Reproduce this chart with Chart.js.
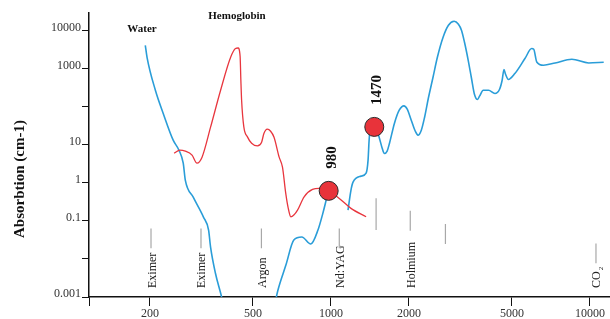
<!DOCTYPE html>
<html>
<head>
<meta charset="utf-8">
<script src="https://cdn.jsdelivr.net/npm/chart.js@4.4.1/dist/chart.umd.min.js"></script>
<style>
  html, body { margin: 0; padding: 0; background: #fff; }
  #wrap { width: 610px; height: 319px; position: relative; }
</style>
</head>
<body>
<div id="wrap"><canvas id="absorption"></canvas></div>
<script>
// wavelength (nm) vs absorption (cm-1)

// water, drawn in three pieces
var waterNm1  = [192, 195, 210, 225, 246, 259, 269, 274, 294, 322, 337, 343, 358, 375, 381];
var waterAbs1 = [4110, 1990, 271, 67.5, 13.2, 7.2, 3.29, 1.18, 0.42, 0.126, 0.0574, 0.0205, 0.00427, 0.00127, 0.00083];

var waterNm2  = [612, 623, 670, 719, 772, 836, 891, 931, 965, 980];
var waterAbs2 = [0.00083, 0.00144, 0.0069, 0.0313, 0.0376, 0.0246, 0.0574, 0.160, 0.42, 0.62];

var waterNm3  = [1164, 1195, 1217, 1307, 1367, 1391, 1404, 1416, 1464, 1508, 1535, 1577, 1609, 1648, 1683,
                 1759, 1835, 1914, 1970, 2042, 2117, 2168, 2233, 2299, 2377, 2478, 2576, 2710, 2842, 2990,
                 3106, 3191, 3278, 3388, 3488, 3581, 3681, 3747, 3873, 4060, 4296, 4478, 4581, 4656, 4721,
                 4842, 5129, 5610, 5957, 6067, 6231, 6614, 7337, 8511, 9886, 11300];
var waterAbs3 = [0.192, 0.643, 1.04, 1.50, 1.80, 3.94, 13.2, 24.2, 29.5, 22.7, 15.8, 8.15, 5.91, 6.79, 11.0,
                 36.9, 80.9, 105, 86, 44.2, 22.7, 17.9, 24.2, 53, 167, 594, 1990, 6670, 13770, 17540,
                 14620, 10180, 4930, 1660, 560, 213, 155, 189, 271, 271, 222, 288, 497, 946, 713,
                 518, 743, 1841, 3373, 3230, 1500, 1228, 1412, 1766, 1412, 1472];

// hemoglobin
var hbNm  = [248, 261, 274, 291, 304, 318, 343, 375, 410, 428, 438, 446, 449, 452, 461, 476, 494, 520, 540,
             551, 568, 585, 603, 631, 650, 669, 684, 700, 719, 743, 788, 849, 901, 980, 1077, 1195, 1367];
var hbAbs = [6.02, 7.21, 6.79, 5.33, 3.29, 4.73, 29.0, 271, 1990, 3373, 3490, 2115, 497, 148, 29.5, 16.1, 11.0, 9.35, 11.7,
             19.8, 25.7, 22.7, 15.8, 4.73, 2.58, 0.537, 0.217, 0.128, 0.142, 0.192, 0.43, 0.671, 0.713, 0.62, 0.39, 0.213, 0.128];

// highlighted diode wavelengths
var dotNm  = [980, 1470];
var dotAbs = [0.616, 29.5];

// laser wavelength markers
var laserNm     = [202, 315, 539, 1077, 1494, 2024, 2767, 10549];
var laserTop    = [0.0635, 0.0635, 0.0635, 0.0635, 0.396, 0.184, 0.0824, 0.0256];
var laserBottom = [0.019, 0.019, 0.019, 0.019, 0.0574, 0.055, 0.0246, 0.00766];
var laserNames  = ['Eximer', 'Eximer', 'Argon', 'Nd:YAG', '', 'Holmium', '', 'CO2'];

var xTicks = [200, 500, 1000, 2000, 5000, 10000];
var yTicks = [0.001, 0.01, 0.1, 1, 10, 100, 1000, 10000];
var yLabelled = [0.001, 0.1, 1, 10, 1000, 10000];

var X_MIN = 116.4, X_MAX = 11950, Y_MIN = 0.001, Y_MAX = 29000;

function toPoints(nm, abs) {
  return nm.map(function(v, i) { return {x: v, y: abs[i]}; });
}

var waterData = toPoints(waterNm1, waterAbs1)
  .concat([{x: 500, y: null}], toPoints(waterNm2, waterAbs2))
  .concat([{x: 1100, y: null}], toPoints(waterNm3, waterAbs3));

var markerData = [];
laserNm.forEach(function(nm, i) {
  markerData.push({x: nm, y: laserTop[i]}, {x: nm, y: laserBottom[i]}, {x: nm, y: null});
});

var serif = '"Liberation Serif", "Times New Roman", serif';

var textPlugin = {
  id: 'figureText',
  afterDraw: function(chart) {
    var ctx = chart.ctx,
        xs = chart.scales.x,
        ys = chart.scales.y,
        area = chart.chartArea;
    ctx.save();
    ctx.fillStyle = '#111';

    // axis title
    ctx.save();
    ctx.translate(24, 238);
    ctx.rotate(-Math.PI / 2);
    ctx.font = 'bold 15px ' + serif;
    ctx.textAlign = 'left';
    ctx.textBaseline = 'alphabetic';
    ctx.fillText('Absorbtion (cm-1)', 0, 0);
    ctx.restore();

    // curve names
    ctx.font = 'bold 11px ' + serif;
    ctx.textAlign = 'center';
    ctx.textBaseline = 'middle';
    ctx.fillText('Water', 142, 29);
    ctx.fillText('Hemoglobin', 237, 16);

    // laser names
    ctx.fillStyle = '#222';
    laserNames.forEach(function(name, i) {
      if (!name) return;
      var px = xs.getPixelForValue(laserNm[i]);
      ctx.save();
      ctx.translate(px + 4.5, area.bottom - 9);
      ctx.rotate(-Math.PI / 2);
      ctx.textAlign = 'left';
      ctx.textBaseline = 'alphabetic';
      if (name === 'CO2') {
        ctx.font = '12px ' + serif;
        ctx.fillText('CO', 0, 0);
        var w = ctx.measureText('CO').width;
        ctx.font = '7px ' + serif;
        ctx.fillText('2', w + 1, 3);
      } else {
        ctx.font = '12px ' + serif;
        ctx.fillText(name, 0, 0);
      }
      ctx.restore();
    });

    // diode labels
    ctx.fillStyle = '#111';
    ctx.font = 'bold 15px ' + serif;
    dotNm.forEach(function(nm, i) {
      var px = xs.getPixelForValue(nm),
          py = ys.getPixelForValue(dotAbs[i]);
      ctx.save();
      ctx.translate(px + 7, py - 22);
      ctx.rotate(-Math.PI / 2);
      ctx.textAlign = 'left';
      ctx.textBaseline = 'alphabetic';
      ctx.fillText(String(nm), 0, 0);
      ctx.restore();
    });

    ctx.restore();
  }
};

function drawAbsorption() {
  var ctx = document.getElementById('absorption').getContext('2d');

  new Chart(ctx, {
    type: 'line',
    data: {
      datasets: [
        {
          label: 'Diode',
          data: toPoints(dotNm, dotAbs),
          showLine: false,
          pointRadius: 9.5,
          pointBackgroundColor: '#e8333a',
          pointBorderColor: '#2a2a2a',
          pointBorderWidth: 1
        },
        {
          label: 'Hemoglobin',
          data: toPoints(hbNm, hbAbs),
          borderColor: '#e8363e',
          borderWidth: 1.3,
          pointRadius: 0,
          cubicInterpolationMode: 'monotone'
        },
        {
          label: 'Water',
          data: waterData,
          borderColor: '#2a9dd8',
          borderWidth: 1.6,
          pointRadius: 0,
          spanGaps: false,
          cubicInterpolationMode: 'monotone'
        },
        {
          label: 'Lasers',
          data: markerData,
          borderColor: '#a8a8a8',
          borderWidth: 1.2,
          pointRadius: 0,
          spanGaps: false,
          tension: 0
        }
      ]
    },
    options: {
      responsive: true,
      maintainAspectRatio: false,
      animation: false,
      layout: { autoPadding: false, padding: { top: 13, right: 0, left: 0, bottom: 0 } },
      plugins: {
        legend: { display: false },
        tooltip: { enabled: false }
      },
      scales: {
        x: {
          type: 'logarithmic',
          min: X_MIN,
          max: X_MAX,
          afterBuildTicks: function(scale) {
            scale.ticks = [X_MIN].concat(xTicks).map(function(v) { return {value: v}; });
          },
          afterFit: function(scale) {
            scale.height = 22;
            scale.paddingLeft = 0;
            scale.paddingRight = 0;
          },
          border: { display: true, color: '#111', width: 1.5 },
          grid: { drawOnChartArea: false, drawTicks: true, tickLength: 9, color: '#111', lineWidth: 1 },
          ticks: {
            autoSkip: false,
            maxRotation: 0,
            padding: 1,
            color: '#333',
            font: { family: serif, size: 12 },
            callback: function(value) {
              return xTicks.indexOf(value) >= 0 ? String(value) : '';
            }
          }
        },
        y: {
          type: 'logarithmic',
          min: Y_MIN,
          max: Y_MAX,
          afterBuildTicks: function(scale) {
            scale.ticks = yTicks.map(function(v) { return {value: v}; });
          },
          afterFit: function(scale) {
            scale.width = 89;
            scale.paddingTop = 0;
            scale.paddingBottom = 0;
          },
          border: { display: true, color: '#111', width: 1.5 },
          grid: { drawOnChartArea: false, drawTicks: true, tickLength: 7, color: '#111', lineWidth: 1 },
          ticks: {
            autoSkip: false,
            padding: 1,
            labelOffset: -3,
            color: '#333',
            font: { family: serif, size: 12 },
            callback: function(value) {
              return yLabelled.indexOf(value) >= 0 ? String(value) : '';
            }
          }
        }
      }
    },
    plugins: [textPlugin]
  });
}

drawAbsorption();
</script>
</body>
</html>
